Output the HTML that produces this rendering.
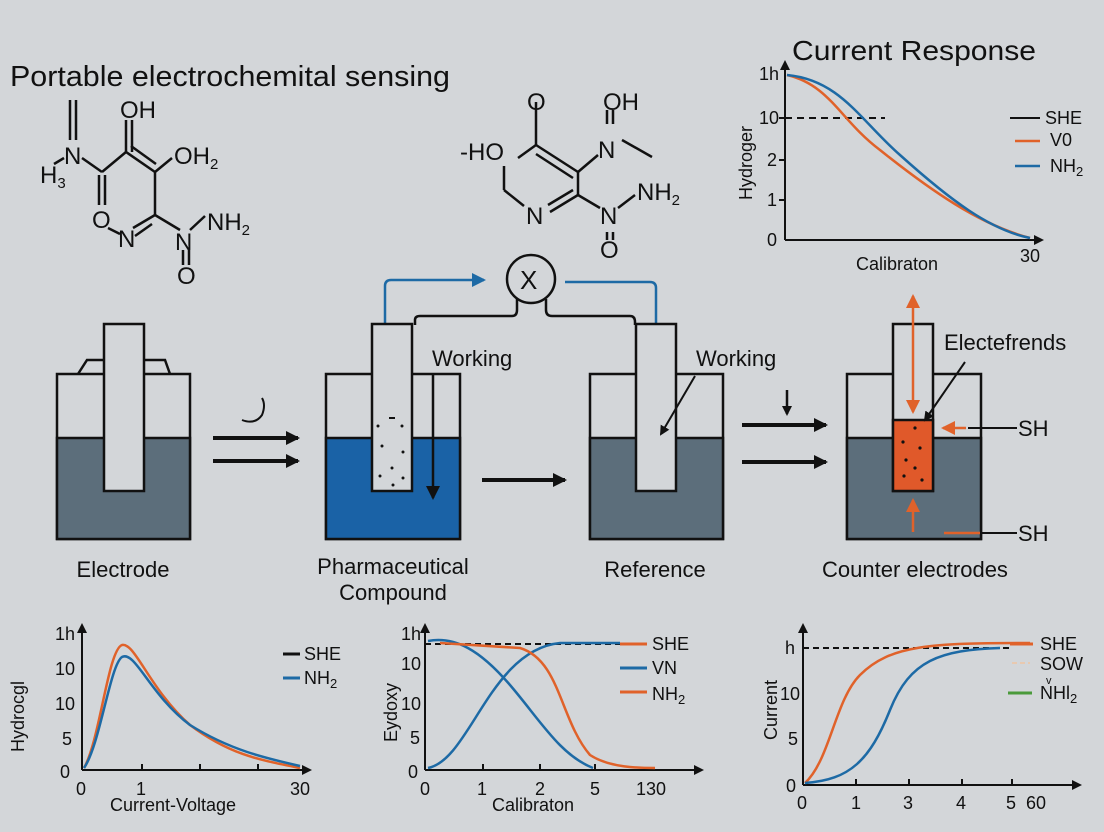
<!DOCTYPE html>
<html><head><meta charset="utf-8"><style>
html,body{margin:0;padding:0;background:#d3d6d9;}
svg{display:block;font-family:"Liberation Sans",sans-serif;}
</style></head><body>
<svg width="1104" height="832" viewBox="0 0 1104 832" xmlns="http://www.w3.org/2000/svg">
<defs>
<marker id="ak" markerWidth="10" markerHeight="10" refX="8" refY="5" orient="auto" markerUnits="userSpaceOnUse"><path d="M0,0 L10,5 L0,10Z" fill="#111"/></marker>
<marker id="akb" markerWidth="14" markerHeight="14" refX="12" refY="7" orient="auto" markerUnits="userSpaceOnUse"><path d="M0,0 L14,7 L0,14Z" fill="#111"/></marker>
<marker id="ab" markerWidth="14" markerHeight="14" refX="12" refY="7" orient="auto" markerUnits="userSpaceOnUse"><path d="M0,0 L14,7 L0,14Z" fill="#1d6aa5"/></marker>
<marker id="ao" markerWidth="14" markerHeight="14" refX="12" refY="7" orient="auto" markerUnits="userSpaceOnUse"><path d="M0,0 L14,7 L0,14Z" fill="#e0622a"/></marker>
</defs>
<rect width="1104" height="832" fill="#d3d6d9"/>
<text x="10" y="86" font-size="29" fill="#111" textLength="440" lengthAdjust="spacingAndGlyphs">Portable electrochemital sensing</text>

<!-- molecule 1 -->
<g stroke="#111" stroke-width="2.5" fill="none">
<line x1="70" y1="100" x2="70" y2="140"/><line x1="76" y1="100" x2="76" y2="140"/>
<line x1="54" y1="164" x2="64" y2="158"/>
<line x1="82" y1="158" x2="102" y2="172"/>
<line x1="102" y1="172" x2="126" y2="152"/>
<line x1="126" y1="152" x2="155" y2="172"/><line x1="131" y1="146" x2="156" y2="164"/>
<line x1="126" y1="152" x2="126" y2="120"/><line x1="132" y1="152" x2="132" y2="120"/>
<line x1="155" y1="172" x2="172" y2="158"/>
<line x1="155" y1="172" x2="155" y2="215"/>
<line x1="99" y1="175" x2="99" y2="205"/><line x1="105" y1="175" x2="105" y2="205"/>
<line x1="108" y1="228" x2="120" y2="234"/>
<line x1="133" y1="228" x2="155" y2="215"/><line x1="135" y1="236" x2="152" y2="224"/>
<line x1="155" y1="215" x2="180" y2="230"/>
<line x1="190" y1="230" x2="205" y2="216"/>
<line x1="183" y1="250" x2="183" y2="265"/><line x1="189" y1="250" x2="189" y2="265"/>
</g>
<g font-size="24" fill="#111">
<text x="40" y="183">H<tspan font-size="15" dy="5">3</tspan></text>
<text x="64" y="164">N</text>
<text x="120" y="118">OH</text>
<text x="174" y="164">OH<tspan font-size="15" dy="5">2</tspan></text>
<text x="92" y="228">O</text>
<text x="118" y="247">N</text>
<text x="175" y="250">N</text>
<text x="207" y="230">NH<tspan font-size="15" dy="5">2</tspan></text>
<text x="177" y="284">O</text>
</g>
<!-- molecule 2 -->
<g stroke="#111" stroke-width="2.5" fill="none">
<line x1="536" y1="102" x2="536" y2="145"/>
<line x1="536" y1="145" x2="518" y2="158"/>
<line x1="536" y1="145" x2="578" y2="172"/><line x1="536" y1="154" x2="573" y2="178"/>
<line x1="578" y1="172" x2="598" y2="155"/>
<line x1="622" y1="140" x2="652" y2="157"/>
<line x1="607" y1="110" x2="607" y2="124"/><line x1="613" y1="110" x2="613" y2="124"/>
<line x1="578" y1="172" x2="578" y2="195"/>
<line x1="578" y1="195" x2="550" y2="212"/><line x1="573" y1="190" x2="548" y2="205"/>
<line x1="578" y1="195" x2="600" y2="208"/>
<line x1="618" y1="208" x2="635" y2="195"/>
<line x1="504" y1="166" x2="504" y2="190"/><line x1="504" y1="190" x2="524" y2="206"/>
<line x1="607" y1="232" x2="607" y2="240"/><line x1="613" y1="232" x2="613" y2="240"/>
</g>
<g font-size="24" fill="#111">
<text x="527" y="110">O</text>
<text x="603" y="110">OH</text>
<text x="598" y="158">N</text>
<text x="460" y="160">-HO</text>
<text x="526" y="224">N</text>
<text x="600" y="224">N</text>
<text x="637" y="200">NH<tspan font-size="15" dy="5">2</tspan></text>
<text x="600" y="258">O</text>
</g>

<!-- current response chart -->
<text x="792" y="60" font-size="28" fill="#111" textLength="244" lengthAdjust="spacingAndGlyphs">Current Response</text>
<g stroke="#111" stroke-width="2" fill="none">
<line x1="785" y1="240" x2="785" y2="62" marker-end="url(#ak)"/>
<line x1="785" y1="240" x2="1042" y2="240" marker-end="url(#ak)"/>
<line x1="785" y1="118" x2="885" y2="118" stroke-dasharray="7,5"/>
<line x1="779" y1="118" x2="785" y2="118"/><line x1="779" y1="160" x2="785" y2="160"/><line x1="779" y1="200" x2="785" y2="200"/>
<line x1="1010" y1="118" x2="1040" y2="118"/>
</g>
<path d="M787,75 C830,85 840,120 880,150 C930,190 980,225 1030,238" stroke="#e0622a" stroke-width="2.5" fill="none"/>
<path d="M787,75 C840,80 860,120 900,155 C950,200 990,230 1030,238" stroke="#1d6aa5" stroke-width="2.5" fill="none"/>
<g font-size="18" fill="#111">
<text x="759" y="80">1h</text><text x="759" y="124">10</text><text x="767" y="166">2</text><text x="767" y="206">1</text><text x="767" y="246">0</text>
<text x="856" y="270">Calibraton</text><text x="1020" y="262">30</text>
<text transform="translate(752,200) rotate(-90)">Hydroger</text>
<text x="1045" y="124">SHE</text><text x="1050" y="146">V0</text><text x="1050" y="172">NH<tspan font-size="13" dy="4">2</tspan></text>
</g>
<line x1="1015" y1="141" x2="1040" y2="141" stroke="#e0622a" stroke-width="2.5"/>
<line x1="1015" y1="166" x2="1040" y2="166" stroke="#1d6aa5" stroke-width="2.5"/>

<!-- circuit -->
<circle cx="531" cy="279" r="24" fill="none" stroke="#111" stroke-width="2.5"/>
<text x="520" y="289" font-size="26" fill="#111">X</text>
<path d="M415,325 L415,320 Q415,316 420,316 L512,316 Q517,316 517,310 L517,299" stroke="#111" stroke-width="2.5" fill="none"/>
<path d="M546,299 L546,310 Q546,316 552,316 L630,316 Q635,316 635,322 L635,325" stroke="#111" stroke-width="2.5" fill="none"/>
<path d="M385,525 L385,286 Q385,280 391,280 L484,280" stroke="#1d6aa5" stroke-width="2.5" fill="none" marker-end="url(#ab)"/>
<line x1="397" y1="330" x2="397" y2="412" stroke="#1d6aa5" stroke-width="2.5" marker-end="url(#ab)"/>
<path d="M565,282 L650,282 Q656,282 656,288 L656,376" stroke="#1d6aa5" stroke-width="2.5" fill="none" marker-end="url(#ab)"/>

<!-- beaker 1 -->
<rect x="57" y="374" width="133" height="165" fill="#d3d6d9" stroke="#111" stroke-width="2.5"/>
<rect x="57" y="438" width="133" height="101" fill="#5c6e7b" stroke="#111" stroke-width="2.5"/>
<path d="M78,374 L87,360 L165,360 L170,374" fill="none" stroke="#111" stroke-width="2.5"/>
<rect x="104" y="324" width="40" height="167" fill="#d3d6d9" stroke="#111" stroke-width="2.5"/>
<path d="M242,420 Q255,425 262,415 Q266,405 262,398" fill="none" stroke="#111" stroke-width="2"/>
<line x1="213" y1="438" x2="298" y2="438" stroke="#111" stroke-width="4" marker-end="url(#akb)"/>
<line x1="213" y1="461" x2="298" y2="461" stroke="#111" stroke-width="4" marker-end="url(#akb)"/>

<!-- beaker 2 -->
<rect x="326" y="374" width="134" height="165" fill="#d3d6d9" stroke="#111" stroke-width="2.5"/>
<rect x="326" y="438" width="134" height="101" fill="#1a62a6" stroke="#111" stroke-width="2.5"/>
<rect x="372" y="324" width="40" height="167" fill="#d3d6d9" stroke="#111" stroke-width="2.5"/>
<g fill="#111"><circle cx="378" cy="426" r="1.5"/><circle cx="402" cy="426" r="1.5"/><circle cx="382" cy="446" r="1.5"/><circle cx="403" cy="452" r="1.5"/><circle cx="392" cy="468" r="1.5"/><circle cx="380" cy="476" r="1.5"/><circle cx="403" cy="478" r="1.5"/><circle cx="393" cy="485" r="1.5"/><rect x="389" y="417" width="6" height="2"/></g>
<line x1="433" y1="374" x2="433" y2="498" stroke="#111" stroke-width="2.5" marker-end="url(#akb)"/>
<text x="432" y="366" font-size="22" fill="#111">Working</text>
<line x1="482" y1="480" x2="565" y2="480" stroke="#111" stroke-width="4" marker-end="url(#akb)"/>

<!-- beaker 3 -->
<rect x="590" y="374" width="133" height="165" fill="#d3d6d9" stroke="#111" stroke-width="2.5"/>
<rect x="590" y="438" width="133" height="101" fill="#5c6e7b" stroke="#111" stroke-width="2.5"/>
<rect x="636" y="324" width="40" height="167" fill="#d3d6d9" stroke="#111" stroke-width="2.5"/>
<line x1="695" y1="376" x2="661" y2="434" stroke="#111" stroke-width="2" marker-end="url(#ak)"/>
<text x="696" y="366" font-size="22" fill="#111">Working</text>
<line x1="787" y1="390" x2="787" y2="414" stroke="#111" stroke-width="2.5" marker-end="url(#ak)"/>
<line x1="742" y1="425" x2="826" y2="425" stroke="#111" stroke-width="4" marker-end="url(#akb)"/>
<line x1="742" y1="462" x2="826" y2="462" stroke="#111" stroke-width="4" marker-end="url(#akb)"/>

<!-- beaker 4 -->
<rect x="847" y="374" width="134" height="165" fill="#d3d6d9" stroke="#111" stroke-width="2.5"/>
<rect x="847" y="438" width="134" height="101" fill="#5c6e7b" stroke="#111" stroke-width="2.5"/>
<rect x="893" y="324" width="40" height="167" fill="#d3d6d9" stroke="#111" stroke-width="2.5"/>
<rect x="893" y="420" width="40" height="71" fill="#e0592a" stroke="#111" stroke-width="2.5"/>
<g fill="#111"><circle cx="915" cy="428" r="1.6"/><circle cx="903" cy="442" r="1.6"/><circle cx="920" cy="448" r="1.6"/><circle cx="906" cy="460" r="1.6"/><circle cx="915" cy="468" r="1.6"/><circle cx="922" cy="480" r="1.6"/><circle cx="904" cy="476" r="1.6"/></g>
<line x1="913" y1="345" x2="913" y2="296" stroke="#e0622a" stroke-width="2.5" marker-end="url(#ao)"/>
<line x1="913" y1="345" x2="913" y2="412" stroke="#e0622a" stroke-width="2.5" marker-end="url(#ao)"/>
<line x1="966" y1="428" x2="943" y2="428" stroke="#e0622a" stroke-width="2.5" marker-end="url(#ao)"/>
<line x1="913" y1="532" x2="913" y2="500" stroke="#e0622a" stroke-width="2.5" marker-end="url(#ao)"/>
<line x1="944" y1="533" x2="980" y2="533" stroke="#e0622a" stroke-width="2.5"/>
<line x1="968" y1="428" x2="1017" y2="428" stroke="#111" stroke-width="2"/>
<line x1="980" y1="533" x2="1017" y2="533" stroke="#111" stroke-width="2"/>
<line x1="965" y1="362" x2="925" y2="420" stroke="#111" stroke-width="2" marker-end="url(#ak)"/>
<text x="944" y="350" font-size="22" fill="#111">Electefrends</text>
<text x="1018" y="436" font-size="22" fill="#111">SH</text>
<text x="1018" y="541" font-size="22" fill="#111">SH</text>

<g font-size="22" fill="#111" text-anchor="middle">
<text x="123" y="577">Electrode</text>
<text x="393" y="574">Pharmaceutical</text>
<text x="393" y="600">Compound</text>
<text x="655" y="577">Reference</text>
<text x="915" y="577">Counter electrodes</text>
</g>

<!-- bottom chart 1 -->
<g stroke="#111" stroke-width="2" fill="none">
<line x1="82" y1="770" x2="82" y2="625" marker-end="url(#ak)"/>
<line x1="82" y1="770" x2="310" y2="770" marker-end="url(#ak)"/>
<line x1="142" y1="764" x2="142" y2="770"/><line x1="200" y1="764" x2="200" y2="770"/><line x1="258" y1="764" x2="258" y2="770"/>
</g>
<path d="M84,768 C100,740 108,650 122,645 C135,642 150,690 190,725 C230,755 260,760 300,768" stroke="#e0622a" stroke-width="2.5" fill="none"/>
<path d="M84,768 C100,745 110,665 122,657 C135,650 150,695 190,725 C230,750 265,758 300,766" stroke="#1d6aa5" stroke-width="2.5" fill="none"/>
<g font-size="18" fill="#111">
<text x="55" y="640">1h</text><text x="55" y="675">10</text><text x="55" y="710">10</text><text x="62" y="745">5</text><text x="60" y="778">0</text>
<text x="76" y="795">0</text><text x="136" y="795">1</text><text x="290" y="795">30</text>
<text x="110" y="811">Current-Voltage</text>
<text transform="translate(24,752) rotate(-90)">Hydrocgl</text>
<text x="304" y="660">SHE</text><text x="304" y="684">NH<tspan font-size="13" dy="4">2</tspan></text>
</g>
<line x1="283" y1="654" x2="300" y2="654" stroke="#111" stroke-width="3"/>
<line x1="283" y1="678" x2="300" y2="678" stroke="#1d6aa5" stroke-width="3"/>

<!-- bottom chart 2 -->
<g stroke="#111" stroke-width="2" fill="none">
<line x1="425" y1="770" x2="425" y2="625" marker-end="url(#ak)"/>
<line x1="425" y1="770" x2="702" y2="770" marker-end="url(#ak)"/>
<line x1="425" y1="644" x2="640" y2="644" stroke-dasharray="6,4"/>
<line x1="483" y1="764" x2="483" y2="770"/><line x1="540" y1="764" x2="540" y2="770"/><line x1="595" y1="764" x2="595" y2="770"/>
</g>
<path d="M428,768 C470,760 490,650 560,643 L620,643" stroke="#1d6aa5" stroke-width="2.5" fill="none"/>
<path d="M428,641 C455,636 480,650 510,685 C540,720 560,755 593,768" stroke="#1d6aa5" stroke-width="2.5" fill="none"/>
<path d="M440,643 L520,648 C560,660 560,720 590,755 C610,768 640,768 655,768" stroke="#e0622a" stroke-width="2.5" fill="none"/>
<g font-size="18" fill="#111">
<text x="401" y="640">1h</text><text x="401" y="670">10</text><text x="401" y="710">10</text><text x="410" y="744">5</text><text x="408" y="778">0</text>
<text x="420" y="795">0</text><text x="477" y="795">1</text><text x="535" y="795">2</text><text x="590" y="795">5</text><text x="636" y="795">130</text>
<text x="492" y="811">Calibraton</text>
<text transform="translate(397,742) rotate(-90)">Eydoxy</text>
<text x="652" y="650">SHE</text><text x="652" y="674">VN</text><text x="652" y="700">NH<tspan font-size="13" dy="4">2</tspan></text>
</g>
<line x1="620" y1="644" x2="647" y2="644" stroke="#e0622a" stroke-width="3"/>
<line x1="620" y1="668" x2="647" y2="668" stroke="#1d6aa5" stroke-width="3"/>
<line x1="620" y1="692" x2="647" y2="692" stroke="#e0622a" stroke-width="3"/>

<!-- bottom chart 3 -->
<g stroke="#111" stroke-width="2" fill="none">
<line x1="803" y1="785" x2="803" y2="625" marker-end="url(#ak)"/>
<line x1="803" y1="785" x2="1080" y2="785" marker-end="url(#ak)"/>
<line x1="803" y1="648" x2="1010" y2="648" stroke-dasharray="6,4"/>
<line x1="856" y1="779" x2="856" y2="785"/><line x1="909" y1="779" x2="909" y2="785"/><line x1="962" y1="779" x2="962" y2="785"/><line x1="1012" y1="779" x2="1012" y2="785"/>
</g>
<path d="M805,783 C830,760 835,700 860,675 C890,645 930,643 1030,643" stroke="#e0622a" stroke-width="2.5" fill="none"/>
<path d="M805,783 C850,780 870,760 890,710 C910,660 940,650 1000,648" stroke="#1d6aa5" stroke-width="2.5" fill="none"/>
<line x1="1010" y1="644" x2="1033" y2="644" stroke="#e0622a" stroke-width="3"/>
<line x1="1012" y1="663" x2="1030" y2="663" stroke="#e8c9b0" stroke-width="2" stroke-dasharray="5,3"/>
<line x1="1008" y1="693" x2="1032" y2="693" stroke="#4a9a3a" stroke-width="3"/>
<g font-size="18" fill="#111">
<text x="785" y="654">h</text><text x="780" y="700">10</text><text x="788" y="745">5</text><text x="786" y="792">0</text>
<text x="797" y="809">0</text><text x="851" y="809">1</text><text x="903" y="809">3</text><text x="956" y="809">4</text><text x="1006" y="809">5</text><text x="1026" y="809">60</text>
<text transform="translate(777,740) rotate(-90)">Current</text>
<text x="1040" y="650">SHE</text><text x="1040" y="670">SOW</text><text x="1046" y="684" font-size="11">v</text>
<text x="1040" y="699">NHl<tspan font-size="13" dy="4">2</tspan></text>
</g>
</svg>
</body></html>
